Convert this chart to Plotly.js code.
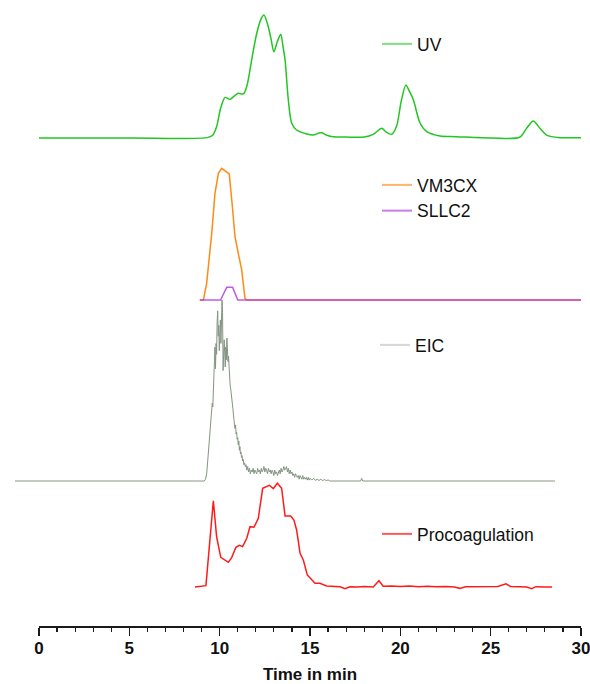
<!DOCTYPE html>
<html>
<head>
<meta charset="utf-8">
<script src="https://cdn.plot.ly/plotly-3.0.1.min.js"></script>
<style>html,body{margin:0;padding:0;background:#fff;}#chart{width:590px;height:684px;}</style>
</head>
<body>
<div id="chart"></div>
<script>
// ---------- DATA (relative intensity, % of each trace's maximum) ----------
const uvTime = [0, 5, 9.3, 9.6, 9.83, 10.05, 10.3, 10.57, 10.8, 11.03, 11.31, 11.5, 11.77, 12.05, 12.3, 12.45, 12.69, 12.85, 13.0, 13.19, 13.38, 13.5, 13.62, 13.8, 13.99, 14.26, 14.82, 15.18, 15.5, 15.65, 15.9, 16.3, 17, 18, 18.5, 18.97, 19.2, 19.52, 19.8, 20.05, 20.31, 20.5, 20.72, 21.09, 21.46, 22.2, 23.1, 25.1, 26.6, 26.99, 27.36, 27.73, 28.1, 28.84, 30];
const uvSignal = [0, 0, 0.3, 2, 9.2, 24, 33, 31.4, 34, 36.3, 35.8, 42, 63.4, 85, 97, 100, 90.5, 80, 70.2, 78.3, 84.3, 75, 63.4, 30.9, 12, 6.5, 3.3, 2.4, 4, 4.2, 2.5, 1, 0.8, 0.8, 3, 7.9, 5, 3, 10, 30, 43, 38, 31.1, 12.2, 5.2, 1.6, 1.1, 0, 0.6, 7.9, 13.8, 7.9, 2.4, 0.3, 0.3];

const vmTime = [8.9, 9.1, 9.28, 9.56, 9.74, 9.93, 10.11, 10.3, 10.53, 10.67, 10.85, 11.03, 11.22, 11.4, 11.5, 30];
const vmSignal = [0, 0, 12.7, 50.6, 81, 96.2, 100, 98.2, 95.7, 75.9, 48.1, 35.4, 22.8, 1.3, 0, 0];

const sllTime = [8.9, 10.05, 10.39, 10.72, 11.0, 30];
const sllSignal = [0, 0, 9.6, 9.6, 0, 0];

const eicTime = [
  -1.33, 9.15, 9.22, 9.28, 9.33, 9.38, 9.42, 9.46, 9.5, 9.53,
  9.56, 9.59, 9.62, 9.65, 9.68, 9.71, 9.74, 9.77, 9.8, 9.83,
  9.86, 9.89, 9.92, 9.95, 9.98, 10.01, 10.04, 10.07, 10.1, 10.13,
  10.16, 10.19, 10.22, 10.25, 10.28, 10.31, 10.34, 10.37, 10.4, 10.43,
  10.46, 10.49, 10.52, 10.55, 10.58, 10.61, 10.64, 10.67, 10.7, 10.73,
  10.76, 10.79, 10.82, 10.85, 10.88, 10.91, 10.94, 10.97, 11.0, 11.03,
  11.06, 11.09, 11.12, 11.15, 11.18, 11.21, 11.24, 11.27, 11.3, 11.34,
  11.38, 11.42, 11.46, 11.5, 11.55, 11.6, 11.65, 11.7, 11.75, 11.8,
  11.85, 11.9, 11.95, 12.0, 12.05, 12.1, 12.15, 12.2, 12.25, 12.3,
  12.35, 12.4, 12.45, 12.5, 12.55, 12.6, 12.65, 12.7, 12.75, 12.8,
  12.85, 12.9, 12.95, 13.0, 13.05, 13.1, 13.15, 13.2, 13.25, 13.3,
  13.35, 13.4, 13.45, 13.5, 13.55, 13.6, 13.65, 13.7, 13.75, 13.8,
  13.85, 13.9, 13.95, 14.0, 14.05, 14.1, 14.15, 14.2, 14.25, 14.3,
  14.35, 14.4, 14.45, 14.5, 14.55, 14.6, 14.65, 14.7, 14.75, 14.8,
  14.85, 14.9, 14.95, 15.0, 15.1, 15.2, 15.3, 15.4, 15.5, 15.6,
  15.7, 15.8, 15.9, 16.0, 16.1, 16.2, 17.8, 17.86, 17.92, 28.56
];
const eicSignal = [
  0, 0, 1, 4, 10, 17, 22, 26, 28, 33,
  38, 43, 41, 47, 58, 66, 74, 62, 76, 70,
  88, 94, 80, 86, 72, 84, 89, 76, 92, 100,
  93, 61, 70, 78, 72, 63, 74, 67, 79, 71,
  66, 69, 60, 56, 53, 51, 49, 46, 43, 40,
  38, 34, 31, 29, 31, 26, 27, 23, 24, 20,
  22, 17, 19, 15, 16, 13, 14, 11, 12, 9,
  10, 8, 9, 6, 8, 5, 7, 4, 6, 5,
  7, 4, 6, 5, 4, 7, 5, 6, 4, 7,
  5, 6, 8, 5, 7, 6, 4, 7, 5, 6,
  4, 6, 5, 3, 6, 4, 5, 3, 5, 6,
  4, 7, 5, 6, 8, 6, 7, 8, 5, 7,
  4, 6, 4, 5, 3, 4, 2, 4, 3, 2,
  3, 1, 3, 2, 1, 3, 1, 2, 1, 2,
  0.5, 2, 0.5, 1.5, 0.5, 1.5, 0.3, 1, 0.3, 1,
  0.2, 0.8, 0.2, 0.6, 0, 0, 0, 1.5, 0, 0
];

const procTime = [8.63, 9.24, 9.65, 9.83, 10.06, 10.48, 10.67, 10.9, 11.09, 11.27, 11.5, 11.68, 11.9, 12.14, 12.38, 12.75, 12.97, 13.19, 13.43, 13.62, 13.93, 14.11, 14.26, 14.45, 14.63, 14.85, 15.28, 15.55, 15.92, 16.66, 16.94, 17.21, 17.6, 18.0, 18.5, 18.82, 19.05, 19.5, 20.0, 20.5, 21.0, 21.5, 22.0, 22.5, 23.0, 23.3, 23.6, 24.2, 24.8, 25.4, 25.85, 26.1, 26.6, 27.0, 27.27, 27.5, 28.0, 28.4];
const procSignal = [0, 1.3, 83.2, 48.5, 28.6, 23.8, 28.6, 38.3, 40.2, 38.9, 47, 58.2, 57.6, 66.3, 95.2, 98.1, 94.9, 100, 95.2, 68.5, 68.5, 64.6, 55, 32.5, 26, 11.6, 3.6, 3.6, 1, 0.3, -1.6, 0.3, 0, 0.5, 0, 6, 0.8, 1, 0.5, 1, 0.3, 0.8, 0.2, 0.5, 0, -1.3, 0.3, 0.5, 0, 0.5, 3, 0.5, 0.3, 0, -1.6, 0.3, 0, 0];

const seriesNames = ['UV', 'VM3CX', 'SLLC2', 'EIC', 'Procoagulation'];
const xTickValues = [0, 5, 10, 15, 20, 25, 30];
const xTickLabels = ['0', '5', '10', '15', '20', '25', '30'];
const xAxisTitle = 'Time in min';

// ---------- LAYOUT HELPERS ----------
const W = 590, H = 684;
const M = {l: 10, r: 5, t: 5, b: 58};
const plotH = H - M.t - M.b, plotW = W - M.l - M.r;
const axisPx = H - M.b;
const x0px = 39, x30px = 581, pxPerMin = (x30px - x0px) / 30;

function panel(basePx, topPx, pad) {
  const pTop = topPx - pad, pBot = basePx + pad;
  const scale = 100 / (basePx - topPx);
  return {
    domain: [(axisPx - pBot) / plotH, (axisPx - pTop) / plotH],
    range: [-(pBot - basePx) * scale, 100 + (topPx - pTop) * scale],
    visible: false, fixedrange: true
  };
}
function legPos(px, py) { return {x: (px - M.l) / plotW, y: (axisPx - py) / plotH}; }

const FONT = 'Liberation Sans, Arial, Helvetica, sans-serif';
const legBase = {xanchor: 'left', yanchor: 'middle', bgcolor: 'rgba(0,0,0,0)',
  font: {family: FONT, size: 17.5, color: '#111'}, tracegroupgap: 0};

const C = {uv: '#22c622', vm: '#ff8a14', sll: 'rgba(180,50,225,0.8)', eic: '#849482', proc: '#ff1a1a'};
const CL = {uv: '#80dd80', vm: '#ffb46a', sll: '#c77cf0', eic: '#d6d6d6', proc: '#ff5a5a'};

const traces = [
  {x: uvTime, y: uvSignal, xaxis: 'x', yaxis: 'y', mode: 'lines', line: {color: C.uv, width: 1.5, shape: 'spline', smoothing: 0.8}, showlegend: false, hoverinfo: 'skip'},
  {x: vmTime, y: vmSignal, xaxis: 'x', yaxis: 'y2', mode: 'lines', line: {color: C.vm, width: 1.5}, showlegend: false, hoverinfo: 'skip'},
  {x: sllTime, y: sllSignal, xaxis: 'x', yaxis: 'y2', mode: 'lines', line: {color: C.sll, width: 1.5}, showlegend: false, hoverinfo: 'skip'},
  {x: eicTime, y: eicSignal, xaxis: 'x2', yaxis: 'y3', mode: 'lines', line: {color: C.eic, width: 1}, showlegend: false, hoverinfo: 'skip'},
  {x: procTime, y: procSignal, xaxis: 'x', yaxis: 'y4', mode: 'lines', line: {color: C.proc, width: 1.5}, showlegend: false, hoverinfo: 'skip'},
  // legend entries
  {x: [null], y: [null], xaxis: 'x', yaxis: 'y', mode: 'lines', name: seriesNames[0], line: {color: CL.uv, width: 2}, legend: 'legend'},
  {x: [null], y: [null], xaxis: 'x', yaxis: 'y2', mode: 'lines', name: seriesNames[1], line: {color: CL.vm, width: 2}, legend: 'legend2'},
  {x: [null], y: [null], xaxis: 'x', yaxis: 'y2', mode: 'lines', name: seriesNames[2], line: {color: CL.sll, width: 2}, legend: 'legend2'},
  {x: [null], y: [null], xaxis: 'x2', yaxis: 'y3', mode: 'lines', name: seriesNames[3], line: {color: CL.eic, width: 2}, legend: 'legend3'},
  {x: [null], y: [null], xaxis: 'x', yaxis: 'y4', mode: 'lines', name: seriesNames[4], line: {color: CL.proc, width: 2}, legend: 'legend4'}
];

const legX = 377;
const layout = {
  width: W, height: H, margin: M,
  paper_bgcolor: '#fff', plot_bgcolor: 'rgba(0,0,0,0)',
  showlegend: true,
  font: {family: FONT, color: '#111'},
  xaxis: {
    domain: [(x0px - M.l) / plotW, (x30px - M.l) / plotW],
    range: [-0.0005, 30.0005], anchor: 'free', position: 0,
    showline: true, linecolor: '#1a1a1a', linewidth: 1.5,
    ticks: 'outside', ticklen: 8, tickwidth: 1.5, tickcolor: '#1a1a1a',
    tickmode: 'array', tickvals: xTickValues, ticktext: xTickLabels,
    ticklabeloverflow: 'allow', ticklabelstandoff: -2,
    tickfont: {family: FONT, size: 17, color: '#111', weight: 'bold'},
    minor: {ticks: 'outside', ticklen: 4, tickwidth: 1.2, tickcolor: '#1a1a1a', tickmode: 'linear', dtick: 1, tick0: 0, showgrid: false},
    showgrid: false, zeroline: false, fixedrange: true,
    title: {text: xAxisTitle, font: {family: FONT, size: 17, color: '#111', weight: 'bold'}, standoff: 14}
  },
  xaxis2: {
    domain: [0, 1],
    range: [(M.l - x0px) / pxPerMin, (W - M.r - x0px) / pxPerMin],
    visible: false, anchor: 'y3', fixedrange: true
  },
  yaxis: Object.assign(panel(138, 15, 8), {anchor: 'x'}),
  yaxis2: Object.assign(panel(300, 168.3, 8), {anchor: 'x'}),
  yaxis3: Object.assign(panel(481, 300, 6), {anchor: 'x2'}),
  yaxis4: Object.assign(panel(587, 483.3, 8), {anchor: 'x'}),
  legend: Object.assign({}, legBase, legPos(legX, 44)),
  legend2: Object.assign({}, legBase, legPos(legX, 198)),
  legend3: Object.assign({}, legBase, legPos(legX - 2, 345)),
  legend4: Object.assign({}, legBase, legPos(legX, 534))
};

Plotly.newPlot('chart', traces, layout, {staticPlot: true, displayModeBar: false});
</script>
</body>
</html>
